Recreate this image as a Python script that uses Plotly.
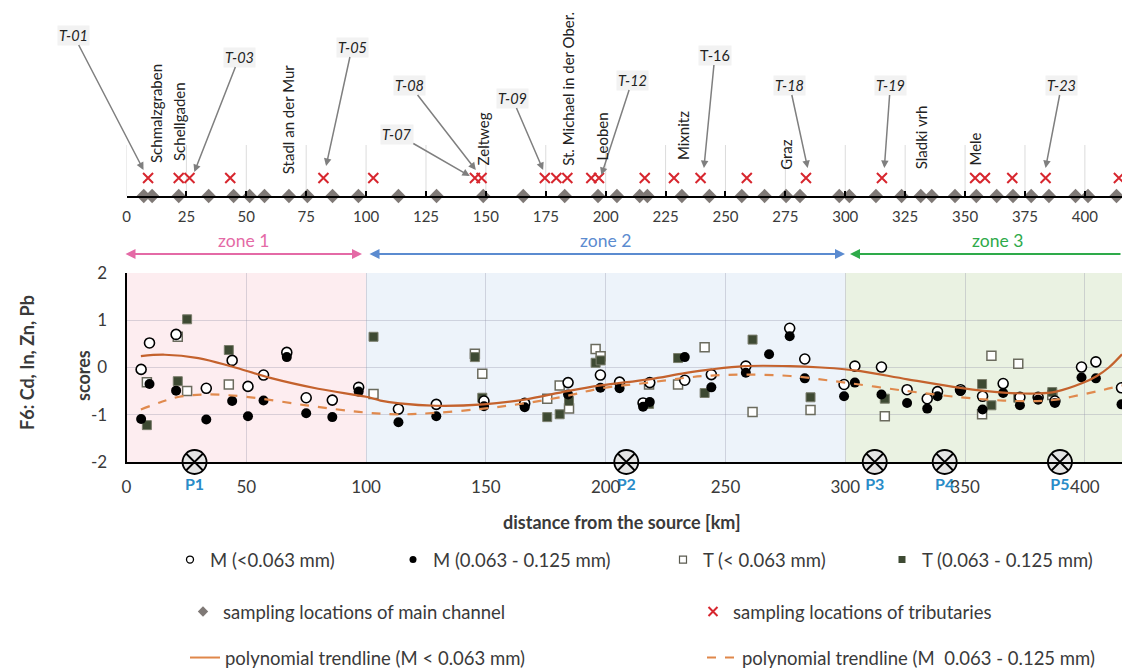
import plotly.graph_objects as go

W, H = 1122, 671
XMAX = 415.5

# ---------------- data ----------------
# sampling locations along the river (km from source), top strip
main_channel_km = [7.2, 10.7, 21.8, 34.3, 44.7, 51.4, 57.6, 67.8, 75.5, 86.0, 96.8,
                   113.5, 129.4, 148.9, 165.6, 182.9, 196.8, 204.7, 214.2, 217.4, 231.8,
                   243.3, 256.8, 266.3, 275.3, 281.1, 297.5, 301.7, 312.8, 323.5, 331.5,
                   336.1, 345.8, 354.7, 363.2, 370.0, 377.6, 385.0, 396.1, 401.3, 413.2]
tributary_km = [9.0, 21.8, 26.3, 43.3, 82.2, 103.0, 145.4, 148.2, 174.6, 179.4, 184.0,
                194.0, 197.2, 216.3, 228.5, 239.6, 258.9, 283.6, 315.3, 354.2, 358.3,
                369.7, 383.6, 414.2]

# place names on the top strip
place_names = ["Schmalzgraben", "Schellgaden", "Stadl an der Mur", "Zeltweg",
               "St. Michael in der Ober.", "Leoben", "Mixnitz", "Graz", "Sladki vrh", "Mele"]
place_km = [12.1, 21.7, 67.5, 148.75, 184.2, 198.3, 232.1, 275.0, 331.7, 353.75]

# tributary labels (arrow tips at these km)
trib_labels = ["T-01", "T-03", "T-05", "T-07", "T-08", "T-09", "T-12", "T-16", "T-18", "T-19", "T-23"]
trib_label_km = [7.1, 28.3, 83.3, 143.3, 145.8, 173.9, 198.2, 241.0, 284.3, 316.3, 383.6]

# axis tick labels
top_tick_km = list(range(0, 401, 25))
main_tick_km = list(range(0, 401, 50))
score_ticks = [-2, -1, 0, 1, 2]
score_tick_labels = ["-2", "-1", "0", "1", "2"]

# main plot series: F6 scores
m_fine_km = [6.1, 9.6, 20.7, 33.3, 44.1, 50.7, 57.2, 66.9, 75.0, 85.9, 96.9, 113.5, 129.3,
             149.2, 166.2, 184.3, 197.8, 205.8, 215.6, 218.4, 233.0, 244.1, 258.5, 276.8,
             283.1, 299.5, 304.0, 315.1, 325.8, 334.2, 338.5, 348.1, 357.3, 365.9, 372.9,
             380.5, 387.5, 398.6, 404.6, 415.3]
m_fine_score = [-0.04, 0.52, 0.70, -0.44, 0.15, -0.40, -0.16, 0.32, -0.64, -0.69, -0.42,
                -0.88, -0.78, -0.71, -0.76, -0.32, -0.16, -0.31, -0.75, -0.32, -0.27, -0.15,
                0.03, 0.83, 0.18, -0.36, 0.03, 0.01, -0.47, -0.66, -0.51, -0.47, -0.61,
                -0.34, -0.63, -0.63, -0.71, 0.01, 0.12, -0.43]

m_coarse_km = [6.1, 9.6, 20.7, 33.3, 44.1, 50.7, 57.2, 66.9, 75.0, 85.9, 96.9, 113.5, 129.3,
               149.2, 166.2, 184.3, 197.8, 205.8, 215.6, 218.4, 233.0, 244.1, 258.5, 268.2,
               276.8, 283.1, 299.5, 304.0, 315.1, 325.8, 334.2, 338.5, 348.1, 357.3, 365.9,
               372.9, 380.5, 387.5, 398.6, 404.6, 415.3]
m_coarse_score = [-1.09, -0.35, -0.49, -1.10, -0.71, -1.03, -0.70, 0.22, -0.97, -1.05, -0.51,
                  -1.16, -1.03, -0.82, -0.84, -0.57, -0.43, -0.44, -0.83, -0.73, 0.22, -0.42,
                  -0.11, 0.28, 0.66, -0.23, -0.61, -0.32, -0.57, -0.75, -0.87, -0.61, -0.50,
                  -0.89, -0.54, -0.80, -0.68, -0.75, -0.21, -0.23, -0.78]

t_km = [8.5, 21.4, 25.3, 42.7, 103.1, 145.4, 148.5, 175.6, 180.8, 184.7, 195.8, 197.9,
        218.1, 230.2, 241.3, 261.3, 285.5, 316.5, 357.1, 361.0, 372.2, 386.4]
t_fine_score = [-0.31, 0.65, -0.50, -0.36, -0.56, 0.29, -0.13, -0.66, -0.38, -0.87, 0.39,
                0.24, -0.36, -0.36, 0.43, -0.94, -0.90, -1.03, -0.99, 0.25, 0.08, -0.58]
t_coarse_score = [-1.22, -0.29, 1.02, 0.37, 0.65, 0.22, -0.64, -1.05, -0.99, -0.71, 0.10,
                  0.15, -0.77, 0.20, -0.54, 0.59, -0.63, -0.66, -0.35, -0.80, -0.64, -0.52]

# polynomial trendlines
trend_fine_km = [6, 16, 30, 44, 60, 80, 100, 106, 114, 129, 149, 166, 184, 198, 218, 233,
                 244, 258, 277, 290, 304, 326, 348, 366, 380, 388, 399, 405, 410, 415.5]
trend_fine_score = [0.24, 0.27, 0.20, 0.02, -0.22, -0.45, -0.62, -0.70, -0.76, -0.81, -0.78,
                    -0.68, -0.50, -0.38, -0.25, -0.12, -0.04, 0.03, 0.03, 0.0, -0.06, -0.25,
                    -0.43, -0.53, -0.55, -0.51, -0.33, -0.18, 0.0, 0.28]
trend_coarse_km = [6, 15, 22, 33, 50, 75, 97, 113, 129, 149, 166, 184, 198, 218, 233, 244,
                   258, 277, 300, 326, 348, 366, 380, 388, 399, 408, 415.5]
trend_coarse_score = [-0.89, -0.72, -0.62, -0.57, -0.62, -0.80, -0.94, -0.99, -0.96, -0.87,
                      -0.76, -0.60, -0.44, -0.32, -0.22, -0.17, -0.15, -0.18, -0.32, -0.50,
                      -0.63, -0.70, -0.71, -0.68, -0.57, -0.47, -0.38]

# P locations
p_km = [28.4, 208.6, 312.3, 341.5, 389.6]
p_labels = ["P1", "P2", "P3", "P4", "P5"]

zones = [("zone 1", 0, 100), ("zone 2", 100, 300), ("zone 3", 300, XMAX)]

# ---------------- styling / layout constants ----------------
X0 = 126.5 / W
TOP_AXIS_PX = 196
CROSS_PX = 178
GRID = "rgba(150,150,170,0.35)"
FONT = "Lato, 'Open Sans', sans-serif"
TXT = "#3a3a3a"

def pxx(v):
    return v / W

def pyy(v):
    return 1 - v / H

fig = go.Figure()

# top strip
fig.add_trace(go.Scatter(x=main_channel_km, y=[TOP_AXIS_PX] * len(main_channel_km),
                         xaxis="x2", yaxis="y2", mode="markers", cliponaxis=False,
                         marker=dict(symbol="diamond", size=11, color="#7f7976"),
                         showlegend=False, hoverinfo="skip"))
fig.add_trace(go.Scatter(x=tributary_km, y=[CROSS_PX] * len(tributary_km),
                         xaxis="x2", yaxis="y2", mode="markers", cliponaxis=False,
                         marker=dict(symbol="x-thin", size=10, color="#d7262e",
                                     line=dict(width=2, color="#d7262e")),
                         showlegend=False, hoverinfo="skip"))

# main series
fig.add_trace(go.Scatter(x=t_km, y=t_fine_score, mode="markers", showlegend=False,
                         marker=dict(symbol="square", size=9, color="white",
                                     line=dict(width=1.5, color="#6b6b5e"))))
fig.add_trace(go.Scatter(x=t_km, y=t_coarse_score, mode="markers", showlegend=False,
                         marker=dict(symbol="square", size=9, color="#3e4a33",
                                     line=dict(width=1, color="#7a7d6c"))))
fig.add_trace(go.Scatter(x=m_fine_km, y=m_fine_score, mode="markers", showlegend=False,
                         marker=dict(symbol="circle", size=10, color="white",
                                     line=dict(width=1.6, color="black"))))
fig.add_trace(go.Scatter(x=m_coarse_km, y=m_coarse_score, mode="markers", showlegend=False,
                         marker=dict(symbol="circle", size=10, color="black",
                                     line=dict(width=0))))
fig.add_trace(go.Scatter(x=trend_fine_km, y=trend_fine_score, mode="lines", showlegend=False,
                         line=dict(color="#c4622d", width=2.2, shape="spline")))
fig.add_trace(go.Scatter(x=trend_coarse_km, y=trend_coarse_score, mode="lines", showlegend=False,
                         line=dict(color="#e08a4e", width=2.2, dash="dash", shape="spline")))
fig.add_trace(go.Scatter(x=p_km, y=[-2] * len(p_km), mode="markers+text", cliponaxis=False,
                         text=["<b>%s</b>" % t for t in p_labels], textposition="bottom center",
                         textfont=dict(color="#2a8cc8", size=16, family=FONT),
                         marker=dict(symbol="circle-x", size=24, color="#e4e4e4",
                                     line=dict(width=1.8, color="black")),
                         showlegend=False, hoverinfo="skip"))

# legend-only entries
legend_items = [
    ("M (<0.063 mm)", dict(mode="markers", marker=dict(symbol="circle", size=7, color="white", line=dict(width=1.3, color="black")))),
    ("M (0.063 - 0.125 mm)", dict(mode="markers", marker=dict(symbol="circle", size=7, color="black"))),
    ("T (< 0.063 mm)", dict(mode="markers", marker=dict(symbol="square", size=7, color="white", line=dict(width=1.2, color="#5b5b50")))),
    ("T (0.063 - 0.125 mm)", dict(mode="markers", marker=dict(symbol="square", size=7, color="#3e4a33"))),
    ("sampling locations of main channel", dict(mode="markers", marker=dict(symbol="diamond", size=8, color="#7f7976"))),
    ("sampling locations of tributaries", dict(mode="markers", marker=dict(symbol="x-thin", size=9, color="#d7262e", line=dict(width=2, color="#d7262e")))),
    ("polynomial trendline (M < 0.063 mm)", dict(mode="lines", line=dict(color="#e0874a", width=2))),
    ("polynomial trendline (M  0.063 - 0.125 mm)", dict(mode="lines", line=dict(color="#e0874a", width=2, dash="dash"))),
]
# (left px, centre px)
legend_pos = [(170, 560), (393, 560), (663, 560), (882, 560),
              (183, 612), (693, 612), (185, 658), (702, 658)]
legend_layout = {}
for i, ((name, kw), (lx, ly)) in enumerate(zip(legend_items, legend_pos)):
    key = "legend" if i == 0 else "legend%d" % (i + 1)
    fig.add_trace(go.Scatter(x=[None], y=[None], name=name, legend=key, showlegend=True, **kw))
    legend_layout[key] = dict(x=pxx(lx), y=pyy(ly), xanchor="left", yanchor="middle",
                              bgcolor="rgba(0,0,0,0)", itemwidth=30,
                              font=dict(size=18.5, color=TXT, family=FONT))

shapes = []
zone_fill = ["#fdedf0", "#edf3fa", "#eaf2e2"]
for (zname, z0, z1), col in zip(zones, zone_fill):
    shapes.append(dict(type="rect", xref="x", yref="y", x0=z0, x1=z1, y0=-2, y1=2,
                       fillcolor=col, line=dict(width=0), layer="below"))
for k in top_tick_km:
    shapes.append(dict(type="line", xref="x2", yref="y2", x0=k, x1=k, y0=145, y1=TOP_AXIS_PX,
                       line=dict(color="#dcdcdc", width=1), layer="below"))

ann = []
# tributary labels with arrows
trib_tip_px = [170, 172, 166, 176, 170, 170, 175, 168, 168, 168, 168]
trib_off = [(-70, -135), (45, -115), (26, -119), (-73, -42), (-66, -85), (-31, -72),
            (31, -95), (11, -113), (-18, -83), (6, -83), (16, -83)]
for lab, km, ty, (dx, dy) in zip(trib_labels, trib_label_km, trib_tip_px, trib_off):
    txt = lab if lab == "T-16" else "<i>%s</i>" % lab
    ann.append(dict(x=km, y=ty, xref="x2", yref="y2", ax=dx, ay=dy, text=txt,
                    showarrow=True, arrowhead=2, arrowsize=1, arrowwidth=1.5,
                    arrowcolor="#7f7f7f", bgcolor="#f2f2f2",
                    font=dict(size=14.5, color="#222", family=FONT)))
# place names (rotated)
place_bottom_px = [165, 163, 176, 167, 168, 163, 162, 172, 171, 168]
for name, km, by in zip(place_names, place_km, place_bottom_px):
    ann.append(dict(x=km, y=by, xref="x2", yref="y2", text=name, textangle=-90,
                    xanchor="center", yanchor="bottom", showarrow=False,
                    font=dict(size=15, color="#222", family=FONT)))
# zone arrows and labels
zone_cols = ["#e46aa6", "#5b8bd0", "#2eaa4a"]
zone_arrow_px = [(124, 362), (368, 845), (850, 1126)]
zone_label_px = [243, 605, 997]
for (zname, _, _), col, (a0, a1), lx in zip(zones, zone_cols, zone_arrow_px, zone_label_px):
    if zname == "zone 3":
        ann.append(dict(x=pxx(a0), y=pyy(254), xref="paper", yref="paper", ax=a1 - a0, ay=0,
                        text="", showarrow=True, arrowhead=2, arrowsize=1, arrowwidth=2,
                        arrowcolor=col))
    else:
        ann.append(dict(x=pxx(a1), y=pyy(254), xref="paper", yref="paper", ax=a0 - a1, ay=0,
                        text="", showarrow=True, arrowhead=2, startarrowhead=2, arrowsize=1,
                        startarrowsize=1, arrowwidth=2, arrowside="end+start", arrowcolor=col))
    ann.append(dict(x=pxx(lx), y=pyy(240), xref="paper", yref="paper", text=zname,
                    xanchor="center", yanchor="middle",
                    showarrow=False, font=dict(size=17.5, color=col, family=FONT)))
# axis titles
ann.append(dict(x=pxx(27), y=pyy(363), xref="paper", yref="paper", text="<b>F6: Cd, In, Zn, Pb</b>",
                xanchor="center", yanchor="middle",
                textangle=-90, showarrow=False, font=dict(size=18, color=TXT, family=FONT)))
ann.append(dict(x=pxx(83), y=pyy(376), xref="paper", yref="paper", text="<b>scores</b>",
                xanchor="center", yanchor="middle",
                textangle=-90, showarrow=False, font=dict(size=18, color=TXT, family=FONT)))
ann.append(dict(x=pxx(622), y=pyy(522), xref="paper", yref="paper",
                text="<b>distance from the source [km]</b>",
                xanchor="center", yanchor="middle",
                showarrow=False, font=dict(size=18, color=TXT, family=FONT)))

fig.update_layout(
    width=W, height=H, margin=dict(l=0, r=0, t=0, b=0, autoexpand=False),
    paper_bgcolor="white", plot_bgcolor="white",
    font=dict(family=FONT, color=TXT),
    xaxis=dict(domain=[X0, 1], range=[0, XMAX], anchor="y", showline=True, linecolor="black",
               linewidth=2, tickvals=main_tick_km, showgrid=True, gridcolor=GRID,
               zeroline=False, ticks="", tickfont=dict(size=17, color=TXT),
               ticklabelstandoff=9, automargin=False),
    yaxis=dict(domain=[pyy(462), pyy(273)], range=[-2, 2], anchor="x", showline=True,
               linecolor="black", linewidth=2, tickvals=score_ticks, ticktext=score_tick_labels,
               showgrid=True, gridcolor=GRID, zeroline=False, ticks="",
               tickfont=dict(size=17, color=TXT), ticklabelstandoff=14, automargin=False),
    xaxis2=dict(domain=[X0, 1], range=[0, XMAX], anchor="y2", showline=True, linecolor="black",
                linewidth=1.5, ticks="inside", ticklen=5, tickwidth=1.5, tickcolor="black",
                tickvals=top_tick_km, showgrid=False, zeroline=False,
                tickfont=dict(size=15, color=TXT), ticklabelstandoff=6, automargin=False),
    yaxis2=dict(domain=[pyy(TOP_AXIS_PX), 1], range=[TOP_AXIS_PX, 0], anchor="x2",
                visible=False, automargin=False),
    shapes=shapes, annotations=ann,
    **legend_layout,
)

fig.write_html("out.html")
